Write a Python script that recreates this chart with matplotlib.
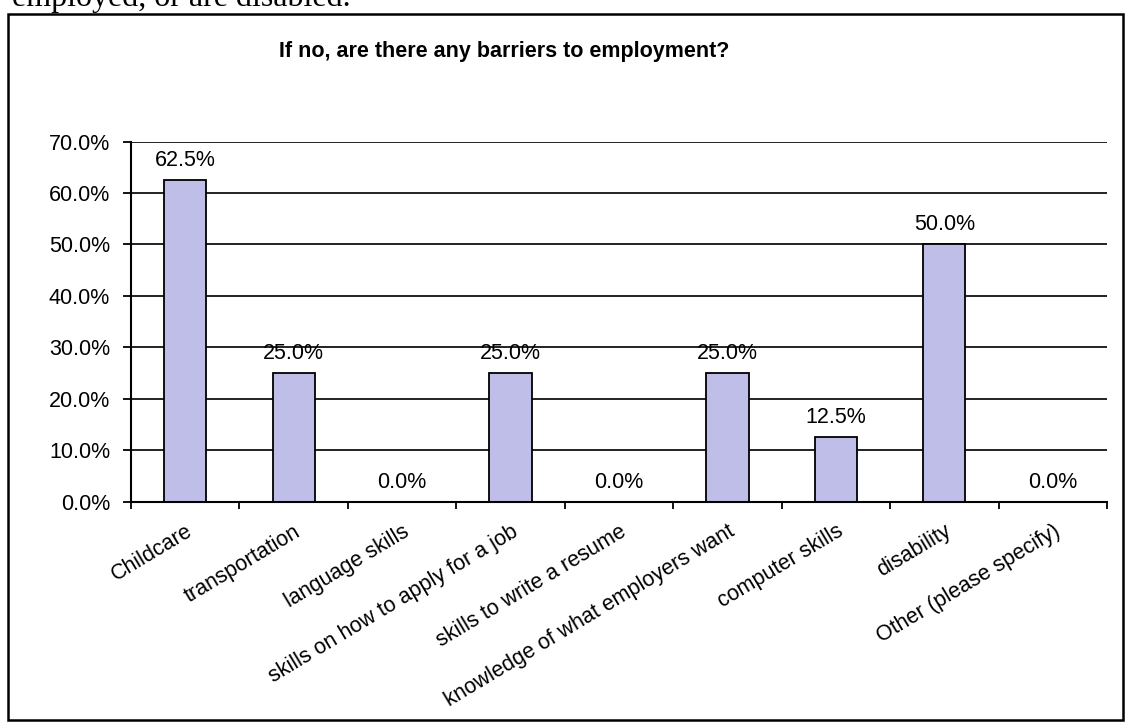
import matplotlib
matplotlib.use("Agg")
import matplotlib.pyplot as plt
from matplotlib.patches import Rectangle

# survey answers: share of respondents naming each barrier
categories = ["Childcare", "transportation", "language skills",
              "skills on how to apply for a job", "skills to write a resume",
              "knowledge of what employers want", "computer skills",
              "disability", "Other (please specify)"]
shares = [62.5, 25.0, 0.0, 25.0, 0.0, 25.0, 12.5, 50.0, 0.0]
y_ticks = [0, 10, 20, 30, 40, 50, 60, 70]

plt.rcParams['font.family'] = ['Liberation Sans', 'DejaVu Sans']

W, H = 1125, 723
fig = plt.figure(figsize=(W / 100, H / 100), dpi=100)

# page border around the chart
fig.add_artist(Rectangle((8 / W, 1 - 720 / H), (1123 - 8) / W, (720 - 14) / H,
                         transform=fig.transFigure, fill=False,
                         lw=1.8, ec='black'))

# tail of the sentence above the chart on the page
fig.text(12 / W, 1 - 6 / H, "employed, or are disabled.",
         family=['Liberation Serif', 'DejaVu Serif'], fontsize=23,
         va='baseline', ha='left')

fig.text(504 / W, 1 - 52 / H, "If no, are there any barriers to employment?",
         ha='center', va='center', fontsize=15.5, fontweight='bold')

ax = fig.add_axes([131 / W, 1 - 501.5 / H, (1107 - 131) / W, (501.5 - 141.5) / H])

x = list(range(len(categories)))
ax.bar(x, shares, width=0.39, color='#BEBEE8', edgecolor='black',
       linewidth=1.3, zorder=3)

ax.set_xlim(-0.5, len(categories) - 0.5)
ax.set_ylim(0, 70)
ax.set_yticks(y_ticks)
ax.set_yticklabels([f"{v:.1f}%" for v in y_ticks], fontsize=15.5)
ax.yaxis.grid(True, color='#111111', linewidth=1.3, zorder=0)
ax.set_axisbelow(True)

for side in ['top', 'right']:
    ax.spines[side].set_visible(False)
for side in ['left', 'bottom']:
    ax.spines[side].set_linewidth(1.5)
    ax.spines[side].set_zorder(4)

ax.set_xticks(x)
ax.set_xticklabels(categories, rotation=31, ha='right',
                   rotation_mode='anchor', fontsize=15.5)
ax.tick_params(axis='x', which='major', length=0, pad=14)
ax.set_xticks([i - 0.5 for i in range(len(categories) + 1)], minor=True)
ax.tick_params(axis='x', which='minor', length=5, width=1.3, direction='out')
ax.tick_params(axis='y', length=6, width=1.3, pad=9)

for xi, v in zip(x, shares):
    ax.annotate(f"{v:.1f}%", (xi, v), xytext=(0, 10),
                textcoords='offset points', ha='center', va='baseline',
                fontsize=15.5)

fig.savefig('out.png', dpi=100)
